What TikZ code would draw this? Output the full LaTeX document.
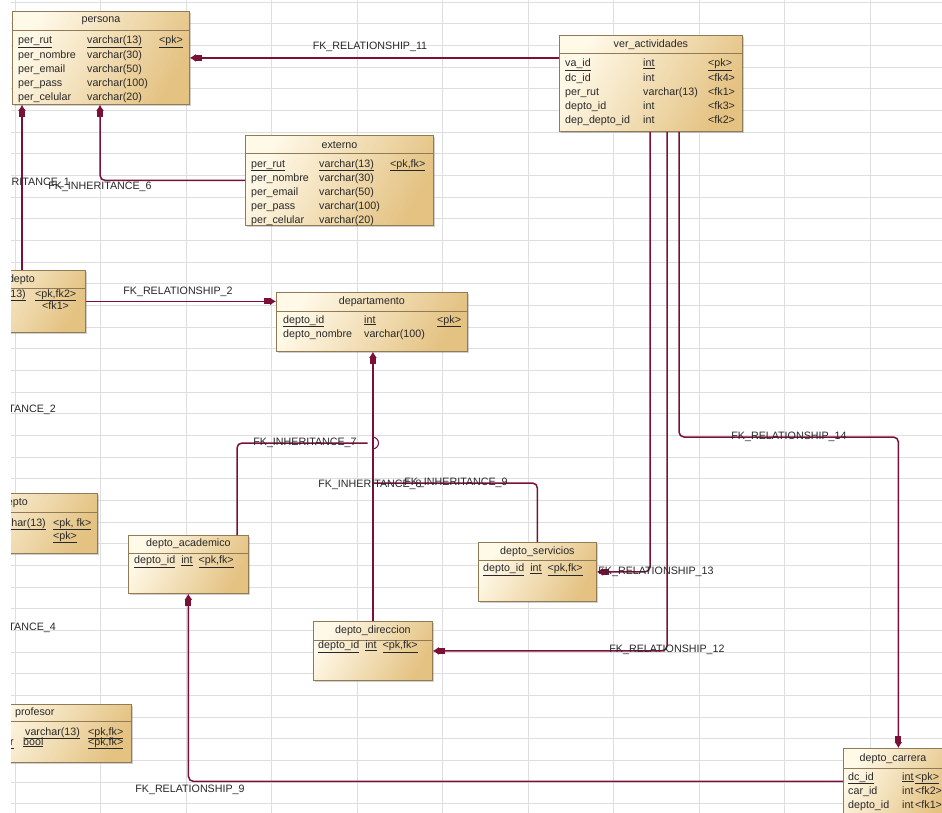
\documentclass[tikz,border=0pt]{standalone}
\usepackage{fontspec}
\setmainfont{Liberation Sans}
\usetikzlibrary{arrows.meta,positioning,calc,shadows}

\definecolor{tblight}{RGB}{255,249,232}
\definecolor{tbdark}{RGB}{228,194,130}
\definecolor{tbborder}{RGB}{145,122,86}
\definecolor{fkline}{RGB}{122,16,56}
\definecolor{gridgray}{RGB}{222,222,222}
\definecolor{txtgray}{RGB}{40,40,40}

\tikzset{
  tbl/.style={draw=tbborder, line width=0.8pt, anchor=north west, inner sep=0pt,
    left color=tblight, right color=tbdark, shading angle=60,
    drop shadow={shadow xshift=2pt, shadow yshift=-2pt, opacity=0.3, fill=black!60}},
  ttl/.style={font=\fontsize{10.7}{12}\selectfont, text=txtgray, inner sep=0pt},
  rows/.style={anchor=north west, inner sep=0pt, font=\fontsize{10.7}{14}\selectfont, text=txtgray},
  sepline/.style={draw=tbborder, line width=0.6pt},
  fk/.style={draw=fkline, line width=1.5pt, rounded corners=5pt,
    -{Rectangle[length=6pt,width=6pt]Latex[length=6pt,width=8pt]}},
  fkl/.style={draw=fkline, line width=1.5pt, rounded corners=5pt},
  lbl/.style={font=\fontsize{10.7}{12}\selectfont, text=txtgray, inner sep=0pt},
  gridln/.style={draw=gridgray, line width=0.8pt}
}

\begin{document}
\begin{tikzpicture}[x=1pt,y=-1pt]
\useasboundingbox (0,0) rectangle (942,813);
\begin{scope}
\clip (11,0) rectangle (942,813);

% grid
\foreach \gx in {0,...,10} \draw[gridln] (15+85.5*\gx,0) -- (15+85.5*\gx,813);
\foreach \gy in {0,...,37} \draw[gridln] (11,2+21.667*\gy) -- (942,2+21.667*\gy);

% persona
\node[tbl, minimum width=177pt, minimum height=93pt] (persona) at (12,11) {};
\node[ttl] (persona-t) at ($(persona.north)+(0,10)$) {persona};
\draw[sepline] ($(persona.north west)+(0,19)$) -- ($(persona.north east)+(0,19)$);
\node[rows] (persona-r) at ($(persona.north west)+(6,23)$) {\begin{tabular}{@{}p{69pt}@{}p{72pt}@{}l@{}}
\underline{per\_rut} & \underline{varchar(13)} & \underline{<pk>}\\
per\_nombre & varchar(30) & \\
per\_email & varchar(50) & \\
per\_pass & varchar(100) & \\
per\_celular & varchar(20) &
\end{tabular}};

% ver_actividades
\node[tbl, minimum width=183pt, minimum height=96pt] (veract) at (559,35) {};
\node[ttl] (veract-t) at ($(veract.north)+(0,10)$) {ver\_actividades};
\draw[sepline] ($(veract.north west)+(0,18)$) -- ($(veract.north east)+(0,18)$);
\node[rows] (veract-r) at ($(veract.north west)+(6,22)$) {\begin{tabular}{@{}p{78pt}@{}p{65pt}@{}l@{}}
\underline{va\_id} & \underline{int} & \underline{<pk>}\\
dc\_id & int & <fk4>\\
per\_rut & varchar(13) & <fk1>\\
depto\_id & int & <fk3>\\
dep\_depto\_id & int & <fk2>
\end{tabular}};

% externo
\node[tbl, minimum width=188pt, minimum height=90pt] (externo) at (245,135) {};
\node[ttl] (externo-t) at ($(externo.north)+(0,10)$) {externo};
\draw[sepline] ($(externo.north west)+(0,18)$) -- ($(externo.north east)+(0,18)$);
\node[rows] (externo-r) at ($(externo.north west)+(6,22)$) {\begin{tabular}{@{}p{68pt}@{}p{71pt}@{}l@{}}
\underline{per\_rut} & \underline{varchar(13)} & \underline{<pk,fk>}\\
per\_nombre & varchar(30) & \\
per\_email & varchar(50) & \\
per\_pass & varchar(100) & \\
per\_celular & varchar(20) &
\end{tabular}};

% depto (left, cut off)
\node[tbl, minimum width=136pt, minimum height=62pt] (ldepto) at (-51,270) {};
\node[ttl, anchor=east] (ldepto-t) at (35,280) {depto};
\draw[sepline] ($(ldepto.north west)+(0,18)$) -- ($(ldepto.north east)+(0,18)$);
\node[rows, anchor=base east] (ldepto-a) at (26,297) {\underline{varchar(13)}};
\node[rows, anchor=base west] (ldepto-b) at (35,297) {\underline{<pk,fk2>}};
\node[rows, anchor=base west] (ldepto-c) at (42,309) {<fk1>};

% departamento
\node[tbl, minimum width=191pt, minimum height=59pt] (dep) at (276,292) {};
\node[ttl] (dep-t) at ($(dep.north)+(0,10)$) {departamento};
\draw[sepline] ($(dep.north west)+(0,19)$) -- ($(dep.north east)+(0,19)$);
\node[rows] (dep-r) at ($(dep.north west)+(7,21)$) {\begin{tabular}{@{}p{81pt}@{}p{73pt}@{}l@{}}
\underline{depto\_id} & \underline{int} & \underline{<pk>}\\
depto\_nombre & varchar(100) &
\end{tabular}};

% dpto (left, cut off)
\node[tbl, minimum width=150pt, minimum height=60pt] (ldpto) at (-53,493) {};
\node[ttl, anchor=east] (ldpto-t) at (28,503) {depto};
\draw[sepline] ($(ldpto.north west)+(0,19)$) -- ($(ldpto.north east)+(0,19)$);
\node[rows, anchor=base east] (ldpto-a) at (46,526) {\underline{varchar(13)}};
\node[rows, anchor=base west] (ldpto-b) at (53,526) {\underline{<pk, fk>}};
\node[rows, anchor=base west] (ldpto-c) at (53,539) {\underline{<pk>}};

% depto_academico
\node[tbl, minimum width=120pt, minimum height=58pt] (dacad) at (128,535) {};
\node[ttl] (dacad-t) at ($(dacad.north)+(0,9)$) {depto\_academico};
\draw[sepline] ($(dacad.north west)+(0,18)$) -- ($(dacad.north east)+(0,18)$);
\node[rows] (dacad-r) at ($(dacad.north west)+(6,21)$) {\underline{depto\_id}\hspace{6pt}\underline{int}\hspace{6pt}\underline{<pk,fk>}};

% depto_servicios
\node[tbl, minimum width=118pt, minimum height=59pt] (dserv) at (478,542) {};
\node[ttl] (dserv-t) at ($(dserv.north)+(0,10)$) {depto\_servicios};
\draw[sepline] ($(dserv.north west)+(0,18)$) -- ($(dserv.north east)+(0,18)$);
\node[rows] (dserv-r) at ($(dserv.north west)+(5,22)$) {\underline{depto\_id}\hspace{6pt}\underline{int}\hspace{6pt}\underline{<pk,fk>}};

% depto_direccion
\node[tbl, minimum width=119pt, minimum height=59pt] (ddir) at (313,621) {};
\node[ttl] (ddir-t) at ($(ddir.north)+(0,10)$) {depto\_direccion};
\draw[sepline] ($(ddir.north west)+(0,19)$) -- ($(ddir.north east)+(0,19)$);
\node[rows] (ddir-r) at ($(ddir.north west)+(5,20)$) {\underline{depto\_id}\hspace{6pt}\underline{int}\hspace{6pt}\underline{<pk,fk>}};

% profesor (left, cut off)
\node[tbl, minimum width=150pt, minimum height=58pt] (lprof) at (-19,704) {};
\node[ttl, anchor=west] (lprof-t) at (15,713) {profesor};
\draw[sepline] ($(lprof.north west)+(0,17)$) -- ($(lprof.north east)+(0,17)$);
\node[rows, anchor=base west] (lprof-a) at (25,735) {\underline{varchar(13)}};
\node[rows, anchor=base west] (lprof-b) at (88,735) {\underline{<pk,fk>}};
\node[rows, anchor=base east] (lprof-c) at (14,745) {\underline{per\_academicor}};
\node[rows, anchor=base west] (lprof-d) at (23,745) {\underline{bool}};
\node[rows, anchor=base west] (lprof-e) at (88,745) {\underline{<pk,fk>}};

% depto_carrera (right, cut off)
\node[tbl, minimum width=110pt, minimum height=66pt] (dcarr) at (843,748) {};
\node[ttl] (dcarr-t) at ($(dcarr.north west)+(50,11)$) {depto\_carrera};
\draw[sepline] ($(dcarr.north west)+(0,20)$) -- ($(dcarr.north east)+(0,20)$);
\node[rows] (dcarr-r) at ($(dcarr.north west)+(5,22)$) {\begin{tabular}{@{}p{54pt}@{}p{13pt}@{}l@{}}
\underline{dc\_id} & \underline{int} & \underline{<pk>}\\
car\_id & int & <fk2>\\
depto\_id & int & <fk1>
\end{tabular}};

% references
\draw[fk] (veract.west |- persona.east) -- (persona.east);
\draw[fk] ($(ldepto.north west)+(73,0)$) -- ($(persona.south west)+(10,0)$);
\draw[fk] (externo.west) -| ($(persona.south west)+(88,0)$);
\draw[fk] (ldepto.east) -- (ldepto.east -| dep.west);
\draw[fk, line width=2.2pt] (ddir.north) -- (ddir.north |- dep.south);
\coordinate (j7) at (372.5,443);
\coordinate (j9) at (372.5,483);
\draw[fkl] ($(dacad.north west)+(109,0)$) |- ($(j7)+(-5,0)$);
\draw[fkl, line width=1pt, rounded corners=0pt] ($(j7)+(0,-6)$) arc[start angle=90, end angle=-90, radius=6pt];
\draw[fkl] (dserv.north) |- (j9);
\draw[fk] ($(veract.south west)+(91,0)$) |- (dserv.east);
\draw[fk] ($(veract.south west)+(108,0)$) |- (ddir.east);
\draw[fk] ($(veract.south west)+(120,0)$) |- ($(dcarr.north)+(0,-311)$) -- (dcarr.north);
\draw[fk] (dcarr.west) -| (dacad.south);

% labels
\node[lbl] (l11) at (370,47) {FK\_RELATIONSHIP\_11};
\node[lbl, anchor=east] (li1) at (70,183) {FK\_INHERITANCE\_1};
\node[lbl] (li6) at (100,187) {FK\_INHERITANCE\_6};
\node[lbl] (l2) at (178,292) {FK\_RELATIONSHIP\_2};
\node[lbl, anchor=east] (li2) at (56,410) {FK\_INHERITANCE\_2};
\node[lbl, anchor=east] (li4) at (56,628) {FK\_INHERITANCE\_4};
\node[lbl] (li7) at (305,443) {FK\_INHERITANCE\_7};
\node[lbl] (li8) at (370,485) {FK\_INHERITANCE\_8};
\node[lbl] (li9) at (456,483) {FK\_INHERITANCE\_9};
\node[lbl] (l13) at (656,572) {FK\_RELATIONSHIP\_13};
\node[lbl] (l12) at (667,650) {FK\_RELATIONSHIP\_12};
\node[lbl] (l14) at (789,437) {FK\_RELATIONSHIP\_14};
\node[lbl] (l9) at (190,790) {FK\_RELATIONSHIP\_9};
\end{scope}
\end{tikzpicture}
\end{document}
